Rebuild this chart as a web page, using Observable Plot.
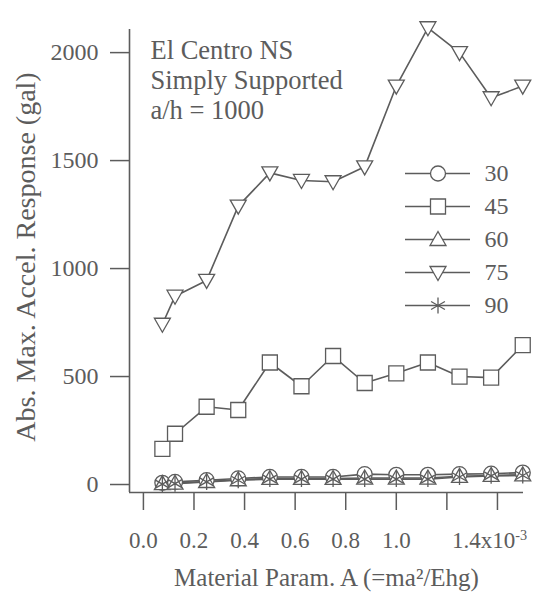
<!DOCTYPE html>
<html>
<head>
<meta charset="utf-8">
<script src="https://cdn.jsdelivr.net/npm/d3@7"></script>
<script src="https://cdn.jsdelivr.net/npm/@observablehq/plot@0.6"></script>
<style>
  html, body { margin: 0; padding: 0; background: white; }
  #wrap { position: relative; width: 533px; height: 595px; }
  #legend { position: absolute; left: 395px; top: 152px; }
</style>
</head>
<body>
<div id="wrap"><div id="chart"></div><div id="legend"></div></div>
<script>
// ---- data ----
const xVals = [0.075, 0.125, 0.25, 0.375, 0.5, 0.625, 0.75, 0.875, 1.0, 1.125, 1.25, 1.375, 1.5];
const s30 = [8, 12, 20, 28, 35, 35, 35, 48, 45, 45, 48, 50, 55];
const s45 = [165, 235, 360, 345, 565, 455, 595, 470, 515, 565, 500, 495, 645];
const s60 = [4, 6, 14, 22, 28, 28, 28, 30, 30, 30, 38, 42, 45];
const s75 = [742, 872, 945, 1289, 1443, 1408, 1402, 1471, 1845, 2115, 2000, 1791, 1845];
const s90 = [2, 4, 12, 20, 25, 25, 25, 25, 25, 25, 35, 40, 42];
const seriesLabels = ["30", "45", "60", "75", "90"];
const seriesValues = [s30, s45, s60, s75, s90];
const xDomain = [-0.055, 1.503];
const yDomain = [-37, 2107];
const yTicks = [0, 500, 1000, 1500, 2000];
const xTicks = [0, 0.2, 0.4, 0.6, 0.8, 1.0, 1.2, 1.4];
const xTickLabels = ["0.0", "0.2", "0.4", "0.6", "0.8", "1.0", "", "1.4x10"];
const xTickSup = "-3";
const noteLines = ["El Centro NS", "Simply Supported", "a/h = 1000"];
const xTitle = "Material Param. A (=ma²/Ehg)";
const yTitle = "Abs. Max. Accel. Response (gal)";

// ---- table ----
const rows = [];
seriesLabels.forEach((s, k) => xVals.forEach((x, i) => rows.push({series: s, x, y: seriesValues[k][i]})));

// ---- symbols ----
const symCircle = {draw(c) { c.moveTo(7.5, 0); c.arc(0, 0, 7.5, 0, 2 * Math.PI); c.closePath(); }};
const symSquare = {draw(c) { c.rect(-7.5, -7.5, 15, 15); }};
const symUp = {draw(c) { c.moveTo(0, -8); c.lineTo(8, 6); c.lineTo(-8, 6); c.closePath(); }};
const symDown = {draw(c) { c.moveTo(0, 8); c.lineTo(8, -6); c.lineTo(-8, -6); c.closePath(); }};
const symStar = {draw(c) {
  const r = 8, t = r * Math.sqrt(3) / 2, u = r / 2;
  c.moveTo(0, r); c.lineTo(0, -r);
  c.moveTo(-t, -u); c.lineTo(t, u);
  c.moveTo(-t, u); c.lineTo(t, -u);
}};
const symbolScale = {domain: seriesLabels, range: [symCircle, symSquare, symUp, symDown, symStar]};

const ink = "#5c5c5c";
const font = "'Liberation Serif', 'Times New Roman', serif";

const chart = Plot.plot({
  width: 533,
  height: 595,
  marginLeft: 129,
  marginRight: 10,
  marginTop: 29,
  marginBottom: 103,
  style: {fontFamily: font, fontSize: "24px", color: ink, background: "white"},
  x: {domain: xDomain, axis: null},
  y: {domain: yDomain, axis: null},
  symbol: symbolScale,
  marks: [
    Plot.axisY({ticks: yTicks, tickSize: 19, tickPadding: 12, tickFormat: d3.format("d"), label: null, strokeWidth: 1.5, fontSize: 24}),
    Plot.axisX({ticks: xTicks, tickSize: 18, tickPadding: 21, tickFormat: d => xTickLabels[Math.round(d * 5)], label: null, strokeWidth: 1.5, fontSize: 23}),
    Plot.ruleX([xDomain[0]], {stroke: ink, strokeWidth: 1.6}),
    Plot.ruleY([yDomain[0]], {stroke: ink, strokeWidth: 1.6}),
    Plot.line(rows, {x: "x", y: "y", z: "series", stroke: ink, strokeWidth: 1.6}),
    Plot.dot(rows, {x: "x", y: "y", symbol: "series", fill: "white", stroke: ink, strokeWidth: 1.3}),
    Plot.text([noteLines.join("\n")], {frameAnchor: "top-left", dx: 21, dy: 8, lineAnchor: "top", textAnchor: "start", lineHeight: 1.14, fontSize: 26.5, fill: ink}),
    Plot.text([yTitle], {frameAnchor: "left", rotate: -90, dx: -103, dy: -4, textAnchor: "middle", fontSize: 28, fill: ink}),
    Plot.text([xTitle], {frameAnchor: "bottom", dy: 93, fontSize: 25, fill: ink})
  ]
});
document.getElementById("chart").appendChild(chart);

// superscript on the last x tick label
d3.select(chart).selectAll("text").each(function() {
  if (this.textContent === xTickLabels[7]) {
    const t = d3.select(this);
    t.attr("dx", "-8");
    t.append("tspan").attr("dy", "-0.55em").attr("font-size", "0.62em").text(xTickSup);
  }
});

// ---- legend ----
const legendRows = seriesLabels.map(s => ({series: s}));
const legend = Plot.plot({
  width: 138,
  height: 170,
  margin: 0,
  style: {fontFamily: font, fontSize: "24px", color: ink, background: "transparent", overflow: "visible"},
  x: {domain: [0, 1], range: [10, 75], axis: null},
  y: {type: "point", domain: seriesLabels, range: [20, 153], padding: 0, axis: null},
  symbol: symbolScale,
  marks: [
    Plot.ruleY(legendRows, {y: "series", x1: 0, x2: 1, stroke: ink, strokeWidth: 1.6}),
    Plot.dot(legendRows, {x: 0.5, y: "series", symbol: "series", fill: "white", stroke: ink, strokeWidth: 1.3}),
    Plot.text(legendRows, {x: 1, y: "series", text: "series", dx: 14, textAnchor: "start", fontSize: 24, fill: ink})
  ]
});
document.getElementById("legend").appendChild(legend);
</script>
</body>
</html>
